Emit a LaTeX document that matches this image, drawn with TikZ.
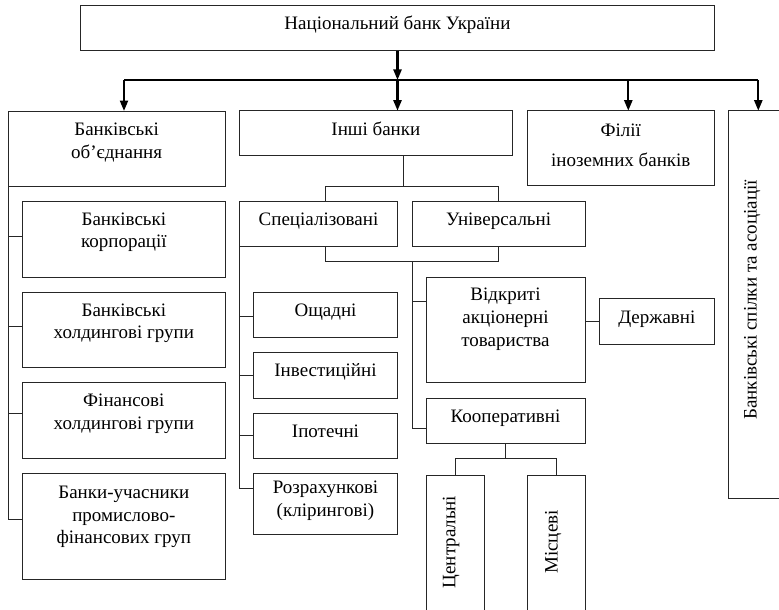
\documentclass[tikz,border=0pt]{standalone}
\usepackage{fontspec}
\setmainfont{Liberation Serif}
\usetikzlibrary{arrows.meta}
\newcommand{\bt}[4][23.5]{\parbox[c][#3pt][t]{#2pt}{\centering\vspace*{\dimexpr#1pt-15.96pt\relax}\strut#4\par}}
\begin{document}
\begin{tikzpicture}[x=1pt,y=-1pt,
  bx/.style={draw=black!85,line width=0.9pt,inner sep=0pt,outer sep=0pt,anchor=north west,font=\fontsize{19}{22.8}\selectfont},
  ln/.style={draw=black!85,line width=0.9pt},
  arr/.style={line width=2.2pt,-{Triangle[width=8pt,length=10.5pt]}},
  rt/.style={rotate=90,anchor=base,inner sep=0pt,font=\fontsize{19}{22.8}\selectfont}]
\useasboundingbox (0,0) rectangle (779,610);
% boxes
\node[bx] (nbu) at (80.7,5) {\bt[24.3]{633.6}{45.7}{Національний банк України}};
\node[bx] (ob) at (8.3,111) {\bt[24.3]{216.7}{75}{Банківські\\об’єднання}};
\node[bx] (inshi) at (239,110.7) {\bt[24.3]{273.7}{45}{Інші банки}};
\node[bx] (filii) at (527.3,110.7) {\bt[25.3]{187}{75}{Філії\\[7.2pt]іноземних банків}};
\node[bx,minimum width=70pt,minimum height=387.6pt] (assoc) at (728.3,110.7) {};
\node[bx] (spec) at (239.3,201.7) {\bt[23.3]{158.4}{45}{Спеціалізовані}};
\node[bx] (univ) at (412.3,201.7) {\bt[23.3]{172.7}{45}{Універсальні}};
\node[bx] (corp) at (22.7,201.7) {\bt[23.3]{202.3}{75.6}{Банківські\\корпорації}};
\node[bx] (hold) at (22.7,292.3) {\bt[23.7]{202.3}{75.4}{Банківські\\холдингові групи}};
\node[bx] (fin) at (22.7,382.7) {\bt[24]{202.3}{75.6}{Фінансові\\холдингові групи}};
\node[bx] (pfg) at (22.7,473.3) {\bt[25]{202.3}{106}{Банки-учасники\\промислово-\\фінансових груп}};
\node[bx] (osch) at (253.3,292.3) {\bt[24.4]{144.4}{45}{Ощадні}};
\node[bx] (inv) at (253.3,352.7) {\bt[24]{144.4}{45.6}{Інвестиційні}};
\node[bx] (ipot) at (253.3,413.3) {\bt[24.4]{144.4}{45}{Іпотечні}};
\node[bx] (rozr) at (253.3,473.3) {\bt[20]{144.4}{60.7}{Розрахункові\\(клірингові)}};
\node[bx] (vidk) at (426,277.3) {\bt[23.4]{159}{105.4}{Відкриті\\акціонерні\\товариства}};
\node[bx] (derzh) at (599.3,298.3) {\bt[25]{115}{45.7}{Державні}};
\node[bx] (koop) at (426,398.3) {\bt[24.4]{159}{45}{Кооперативні}};
\node[bx,minimum width=57.3pt,minimum height=150pt] (cent) at (426.7,475) {};
\node[bx,minimum width=57.3pt,minimum height=150pt] (mis) at (527.7,475) {};
% rotated texts
\node[rt] (assocT) at (756.5,300) {Банківські спілки та асоціації};
\node[rt] (centT) at (455.3,542) {Центральні};
\node[rt] (misT) at (557.5,542) {Місцеві};
% top arrows
\coordinate (bL) at (124,80);
\coordinate (bR) at (758.3,80);
\coordinate (aF) at (628.3,80);
\draw[line width=1.3pt] (bL) -- (bR);
\draw[arr] (nbu.south) -- (nbu.south |- bL);
\draw[arr] (bL) -- (bL |- ob.north);
\draw[arr] (nbu.south |- bL) -- (nbu.south |- inshi.north);
\draw[arr] (aF) -- (aF |- filii.north);
\draw[arr] (bR) -- (bR |- assoc.north);
% left spine
\coordinate (l1) at ([yshift=2.8pt]corp.west);
\coordinate (l2) at ([yshift=3.3pt]hold.west);
\coordinate (l3) at ([yshift=7.2pt]fin.west);
\coordinate (l4) at ([yshift=7pt]pfg.west);
\draw[ln] (ob.south west) -- (ob.south west |- l4) -- (l4);
\draw[ln] (l1 -| ob.west) -- (l1);
\draw[ln] (l2 -| ob.west) -- (l2);
\draw[ln] (l3 -| ob.west) -- (l3);
% inshi -> spec / univ
\coordinate (iT) at (403.3,186.7);
\coordinate (sTop) at (325.7,186.7);
\coordinate (sBot) at (325.7,261.7);
\draw[ln] (iT |- inshi.south) -- (iT);
\draw[ln] (sTop |- spec.north) -- (sTop) -- (sTop -| univ.north) -- (univ.north);
\draw[ln] (sBot |- spec.south) -- (sBot) -- (sBot -| univ.south) -- (univ.south);
% spec spine
\coordinate (r1) at ([yshift=-1.2pt]osch.west);
\coordinate (r2) at (inv.west);
\coordinate (r3) at (ipot.west);
\coordinate (r4) at ([yshift=15.4pt]rozr.west);
\draw[ln] (spec.south west) -- (spec.south west |- r4) -- (r4);
\draw[ln] (r1 -| spec.west) -- (r1);
\draw[ln] (r2 -| spec.west) -- (r2);
\draw[ln] (r3 -| spec.west) -- (r3);
% univ spine
\coordinate (v1) at ([yshift=29pt]vidk.west);
\coordinate (k1) at ([yshift=-7.5pt]koop.west);
\draw[ln] (univ.west |- sBot) |- (k1);
\draw[ln] (v1 -| univ.west) -- (v1);
\draw[ln] (vidk.east |- derzh.west) -- (derzh.west);
% koop -> cent / mis
\draw[ln] (koop.south) -- ++(0,15) coordinate (kb);
\draw[ln] (cent.north) -- (cent.north |- kb) -- (mis.north |- kb) -- (mis.north);
\end{tikzpicture}
\end{document}
